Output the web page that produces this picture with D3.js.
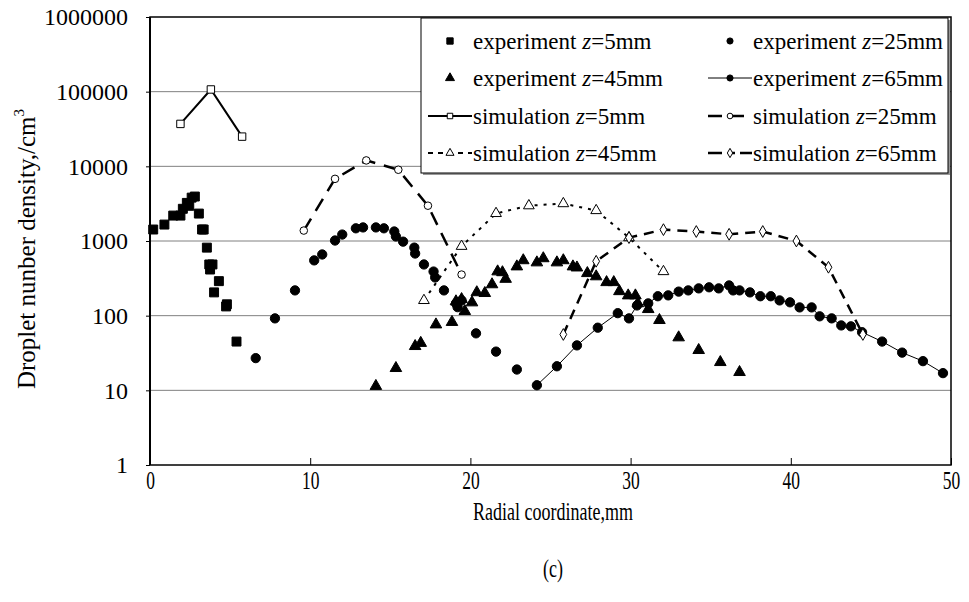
<!DOCTYPE html>
<html>
<head>
<meta charset="utf-8">
<script src="https://cdn.jsdelivr.net/npm/d3@7"></script>
<style>
  body { margin: 0; background: #fff; }
  svg text { font-family: "Liberation Serif", "Times New Roman", serif; fill: #000; }
</style>
</head>
<body>
<div id="chart"></div>
<script>
// radial coordinate (mm), droplet number density (/cm3)
const expZ5 = [[0.2,1425],[0.9,1660],[1.45,2190],[1.9,2190],[2.05,2700],[2.3,3240],[2.45,2960],[2.6,3810],[2.8,3940],
  [3.05,2330],[3.25,1425],[3.35,1425],[3.55,815],[3.7,485],[3.9,485],[3.75,415],[4.3,290],[4.0,205],[4.75,133],[4.8,142],[5.4,45]]

const expZ25 = [[6.6,27],[7.8,92],[9.05,218],[10.25,550],[10.75,660],[11.55,1015],[12.0,1220],[12.85,1480],[13.3,1520],
  [14.1,1520],[14.6,1480],[15.25,1340],[15.35,1150],[15.8,980],[16.5,815],[16.55,680],[17.1,485],[17.7,390],[17.8,325],
  [18.35,218],[19.1,146],[19.2,130],[19.45,160],[20.35,58],[21.6,33],[22.9,19]]

const expZ45 = [[14.1,11.4],[15.35,19.8],[16.55,39],[16.9,43],[17.85,76],[18.85,82],[19.1,155],[19.45,166],[19.65,115],
  [20.1,150],[20.4,205],[20.9,200],[21.35,262],[21.7,390],[22.0,380],[22.2,310],[22.9,455],[23.3,550],[24.15,515],
  [24.55,585],[25.4,515],[25.8,550],[26.4,455],[26.65,440],[27.3,370],[27.85,335],[28.5,280],[28.95,280],[29.3,212],
  [29.85,186],[30.3,186],[30.45,146],[31.1,122],[31.8,87],[33.0,51],[34.25,34.5],[35.6,23.8],[36.8,17.5]]

const expZ65 = [[24.15,11.7],[25.4,21],[26.65,40],[27.95,69],[29.2,108],[29.9,92],[30.4,137],[31.1,146],[31.7,182],
  [32.35,187],[33.0,210],[33.6,218],[34.25,232],[34.9,240],[35.5,232],[36.15,254],[36.4,218],[36.8,218],[37.45,205],
  [38.1,182],[38.75,182],[39.3,160],[39.95,151],[40.55,129],[41.3,129],[41.8,98],[42.55,92],[43.15,74],[43.75,72],
  [44.45,60],[45.7,45],[46.95,32],[48.25,24.6],[49.5,17]]

const simZ5 = [[1.9,37000],[3.8,107000],[5.75,25000]]
const simZ25 = [[9.6,1380],[11.55,6800],[13.5,12000],[15.5,9000],[17.35,2970],[19.45,355]]
const simZ45 = [[17.1,160],[19.45,850],[21.6,2340],[23.65,2970],[25.8,3170],[27.85,2560],[29.9,1110],[32.05,390]]
const simZ65 = [[25.8,56],[27.85,535],[29.9,1110],[32.05,1420],[34.1,1340],[36.15,1230],[38.25,1340],[40.35,1000],[42.35,445],[44.5,56]]

const xTicks = [0, 10, 20, 30, 40, 50]
const yTicks = [1, 10, 100, 1000, 10000, 100000, 1000000]

const legendLabels = [
  ['experiment ', '=5mm'], ['experiment ', '=25mm'],
  ['experiment ', '=45mm'], ['experiment ', '=65mm'],
  ['simulation ', '=5mm'], ['simulation ', '=25mm'],
  ['simulation ', '=45mm'], ['simulation ', '=65mm']
]

const width = 969, height = 602
const margin = {left: 150, right: 951, top: 17, bottom: 465}

const svg = d3.select('#chart').append('svg')
  .attr('width', width)
  .attr('height', height)

const x = d3.scaleLinear().domain([0, 50]).range([margin.left, margin.right])
const y = d3.scaleLog().domain([1, 1000000]).range([margin.bottom, margin.top])

// gridlines
svg.append('g')
  .selectAll('line')
  .data(yTicks.slice(1, -1))
  .join('line')
  .attr('x1', margin.left).attr('x2', margin.right)
  .attr('y1', d => y(d)).attr('y2', d => y(d))
  .style('stroke', '#808080')
  .style('stroke-width', 1)

// y axis
const yAxis = svg.append('g')
  .attr('transform', `translate(${margin.left},0)`)
  .call(d3.axisLeft(y).tickValues(yTicks).tickFormat(d3.format('d')).tickSize(4).tickPadding(18))
yAxis.select('.domain').remove()
yAxis.selectAll('line').style('stroke', '#000')
yAxis.selectAll('text').style('font-size', '24px').style('font-family', '"Liberation Serif", serif')

// x axis
const xAxis = svg.append('g')
  .attr('transform', `translate(0,${margin.bottom})`)
  .call(d3.axisBottom(x).tickValues(xTicks).tickSizeInner(-7).tickSizeOuter(0).tickPadding(6))
xAxis.select('.domain').remove()
xAxis.selectAll('line').style('stroke', '#000')
xAxis.selectAll('text')
  .style('font-size', '25px').style('font-family', '"Liberation Serif", serif')
  .attr('transform', 'scale(0.7,1)')

// frame
svg.append('rect')
  .attr('x', margin.left).attr('y', margin.top)
  .attr('width', margin.right - margin.left).attr('height', margin.bottom - margin.top)
  .style('fill', 'none').style('stroke', '#000').style('stroke-width', 1.5)
svg.append('line')
  .attr('x1', margin.left).attr('x2', margin.left)
  .attr('y1', margin.top).attr('y2', margin.bottom)
  .style('stroke', '#000').style('stroke-width', 2)

// axis titles
svg.append('text')
  .attr('transform', `translate(553,520) scale(0.72,1)`)
  .attr('text-anchor', 'middle')
  .style('font-size', '25px')
  .text('Radial coordinate,mm')

svg.append('text')
  .attr('transform', `translate(553,577) scale(0.72,1)`)
  .attr('text-anchor', 'middle')
  .style('font-size', '25px')
  .text('(c)')

const yt = svg.append('text')
  .attr('transform', 'translate(35,249) rotate(-90)')
  .attr('text-anchor', 'middle')
  .style('font-size', '25px')
yt.append('tspan').text('Droplet nunber density,/cm')
yt.append('tspan').attr('dy', -11).style('font-size', '15px').text('3')

const line = d3.line().x(d => x(d[0])).y(d => y(d[1]))
const plot = svg.append('g')

// simulation lines
plot.append('path').datum(simZ5).attr('d', line)
  .style('fill', 'none').style('stroke', '#000').style('stroke-width', 2)
plot.append('path').datum(simZ25).attr('d', line)
  .style('fill', 'none').style('stroke', '#000').style('stroke-width', 2.5).style('stroke-dasharray', '14,9')
plot.append('path').datum(simZ45).attr('d', line)
  .style('fill', 'none').style('stroke', '#000').style('stroke-width', 2).style('stroke-dasharray', '3,6')
plot.append('path').datum(simZ65).attr('d', line)
  .style('fill', 'none').style('stroke', '#000').style('stroke-width', 2.5).style('stroke-dasharray', '10,7')
plot.append('path').datum(expZ65).attr('d', line)
  .style('fill', 'none').style('stroke', '#000').style('stroke-width', 1)

const sym = (type, size) => d3.symbol().type(type).size(size)

function points(data, type, size, fill) {
  plot.append('g')
    .selectAll('path')
    .data(data)
    .join('path')
    .attr('transform', d => `translate(${x(d[0])},${y(d[1])})`)
    .attr('d', sym(type, size))
    .style('fill', fill)
    .style('stroke', '#000')
    .style('stroke-width', 1)
}

points(expZ5, d3.symbolSquare, 80, '#000')
points(expZ25, d3.symbolCircle, 68, '#000')
points(expZ45, d3.symbolTriangle, 58, '#000')
points(expZ65, d3.symbolCircle, 68, '#000')
points(simZ5, d3.symbolSquare, 55, '#fff')
points(simZ25, d3.symbolCircle, 45, '#fff')
points(simZ45, d3.symbolTriangle, 50, '#fff')
points(simZ65, d3.symbolDiamond, 40, '#fff')

// legend
const lg = svg.append('g')
lg.append('rect')
  .attr('x', 423).attr('y', 20).attr('width', 527).attr('height', 155)
  .style('fill', '#999')
lg.append('rect')
  .attr('x', 421).attr('y', 18).attr('width', 527).attr('height', 155)
  .style('fill', '#fff').style('stroke', '#000').style('stroke-width', 1)

const rowY = [41, 78, 116, 153]
const colX = [450, 730]
const legendItems = [
  {type: d3.symbolSquare, size: 40, fill: '#000', dash: null},
  {type: d3.symbolCircle, size: 30, fill: '#000', dash: null},
  {type: d3.symbolTriangle, size: 35, fill: '#000', dash: null},
  {type: d3.symbolCircle, size: 30, fill: '#000', dash: 'none', w: 1},
  {type: d3.symbolSquare, size: 30, fill: '#fff', dash: 'none', w: 2},
  {type: d3.symbolCircle, size: 25, fill: '#fff', dash: '14,8', w: 2.5},
  {type: d3.symbolTriangle, size: 28, fill: '#fff', dash: '5,5', w: 2},
  {type: d3.symbolDiamond, size: 25, fill: '#fff', dash: '14,8,5,5', w: 2.5}
]

legendItems.forEach((it, i) => {
  const cx = colX[i % 2], cy = rowY[Math.floor(i / 2)]
  const g = lg.append('g')
  if (it.dash !== null) {
    g.append('line')
      .attr('x1', cx - 22).attr('x2', cx + 22).attr('y1', cy).attr('y2', cy)
      .style('stroke', '#000').style('stroke-width', it.w)
      .style('stroke-dasharray', it.dash === 'none' ? null : it.dash)
  }
  g.append('path')
    .attr('transform', `translate(${cx},${cy})`)
    .attr('d', sym(it.type, it.size))
    .style('fill', it.fill).style('stroke', '#000').style('stroke-width', 1)
  const t = g.append('text')
    .attr('x', cx + 23).attr('y', cy + 8)
    .style('font-size', '23px')
  t.append('tspan').text(legendLabels[i][0])
  t.append('tspan').style('font-style', 'italic').text('z')
  t.append('tspan').text(legendLabels[i][1])
})
</script>
</body>
</html>
